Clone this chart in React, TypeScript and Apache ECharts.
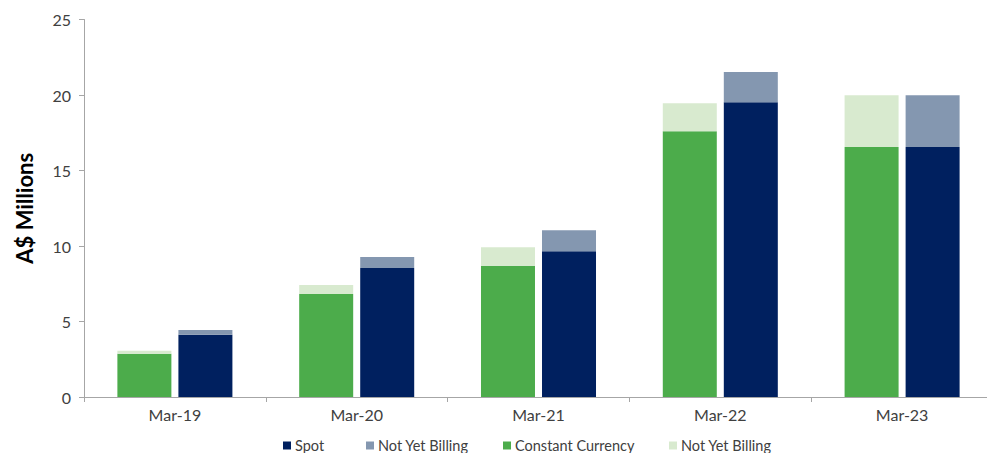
import React, { useEffect, useRef } from "react";
import * as echarts from "echarts";

const categories = ["Mar-19", "Mar-20", "Mar-21", "Mar-22", "Mar-23"];
const constantCurrency = [2.87, 6.82, 8.7, 17.6, 16.56];
const ccNotYetBilling = [0.2, 0.6, 1.21, 1.85, 3.42];
const spot = [4.13, 8.54, 9.65, 19.52, 16.56];
const spotNotYetBilling = [0.31, 0.73, 1.39, 2.0, 3.42];
const yTicks = { min: 0, max: 25, interval: 5 };

const FONT = "Lato";
const TXT = "#404040";

export default function App() {
  const ref = useRef<HTMLDivElement>(null);
  useEffect(() => {
    if (!ref.current) return;
    const chart = echarts.init(ref.current, undefined, { renderer: "svg" });
    const legendItem = (name: string, left: number) => ({
      data: [name],
      left,
      top: 438,
      padding: 0,
      itemWidth: 8,
      itemHeight: 8,
      icon: "rect",
      itemGap: 0,
      formatter: (n: string) => n.trim(),
      textStyle: { fontFamily: FONT, fontSize: 14.5, color: TXT, padding: [0, 0, 0, -1] },
    });
    chart.setOption({
      animation: false,
      backgroundColor: "#ffffff",
      textStyle: { fontFamily: FONT },
      grid: { left: 84, top: 19.5, width: 909, bottom: 56 },
      legend: [
        legendItem("Spot", 283),
        legendItem("Not Yet Billing", 366),
        legendItem("Constant Currency", 503),
        legendItem("Not Yet Billing ", 669),
      ],
      xAxis: {
        type: "category",
        data: categories,
        axisLine: { lineStyle: { color: "#A6A6A6", width: 1 } },
        axisTick: { show: true, length: 5, lineStyle: { color: "#A6A6A6" } },
        axisLabel: { fontFamily: FONT, fontSize: 16, color: TXT, margin: 9 },
      },
      yAxis: {
        type: "value",
        min: yTicks.min,
        max: yTicks.max,
        interval: yTicks.interval,
        name: "A$ Millions",
        nameLocation: "middle",
        nameGap: 49,
        nameTextStyle: { fontFamily: FONT, fontSize: 22, fontWeight: "bold", color: "#000000" },
        axisLine: { show: true, lineStyle: { color: "#A6A6A6", width: 1 } },
        axisTick: { show: true, length: 5, lineStyle: { color: "#A6A6A6" } },
        axisLabel: { fontFamily: FONT, fontSize: 16, color: TXT, margin: 13 },
        splitLine: { show: false },
      },
      series: [
        {
          name: "Constant Currency",
          type: "bar",
          stack: "cc",
          data: constantCurrency,
          barWidth: 54,
          barGap: "13%",
          itemStyle: { color: "#4CAC4B" },
        },
        {
          name: "Not Yet Billing ",
          type: "bar",
          stack: "cc",
          data: ccNotYetBilling,
          barWidth: 54,
          barGap: "13%",
          itemStyle: { color: "#D8EACF" },
        },
        {
          name: "Spot",
          type: "bar",
          stack: "spot",
          data: spot,
          barWidth: 54,
          barGap: "13%",
          itemStyle: { color: "#00205F" },
        },
        {
          name: "Not Yet Billing",
          type: "bar",
          stack: "spot",
          data: spotNotYetBilling,
          barWidth: 54,
          barGap: "13%",
          itemStyle: { color: "#8497B0" },
        },
      ],
    });
    return () => chart.dispose();
  }, []);
  return (
    <div
      style={{ position: "fixed", left: 0, top: 0, width: 987, height: 453, overflow: "hidden", background: "#fff" }}
    >
      <div ref={ref} style={{ width: 1000, height: 453 }} />
    </div>
  );
}
